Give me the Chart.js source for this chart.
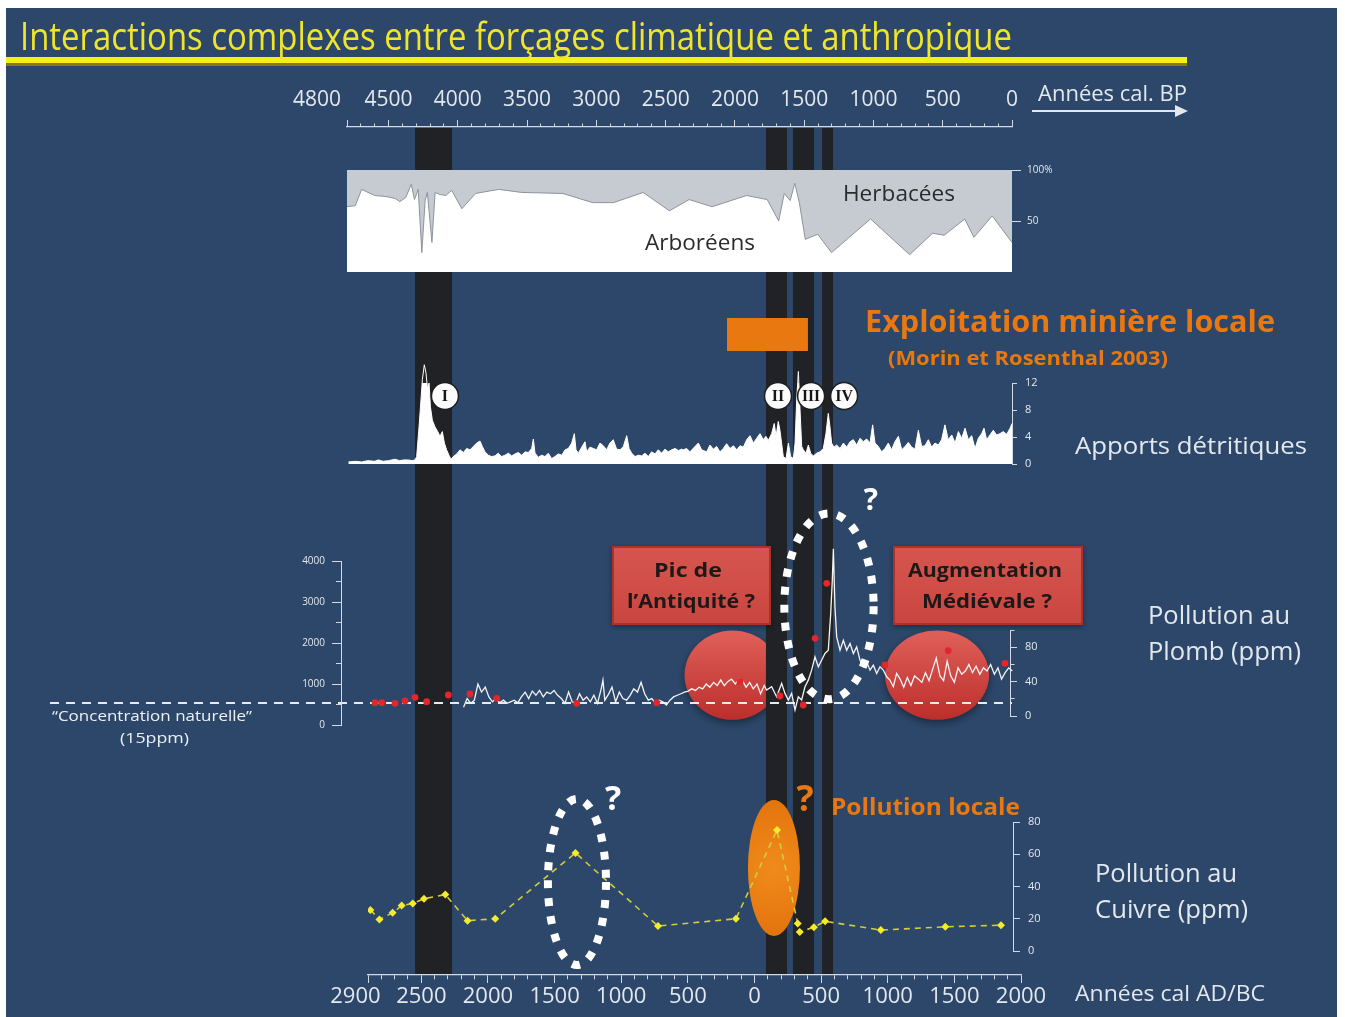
<!DOCTYPE html>
<html lang="fr">
<head>
<meta charset="utf-8">
<title>Interactions complexes entre forçages climatique et anthropique</title>
<script src="https://cdn.jsdelivr.net/npm/chart.js@4.4.1/dist/chart.umd.min.js"></script>
<style>
  html, body { margin: 0; padding: 0; background: #ffffff; }
  #stage { position: relative; width: 1345px; height: 1017px; overflow: hidden; }
  #slide { position: absolute; left: 6px; top: 8px; width: 1331px; height: 1009px; background: #2c4769; }
  #stage canvas { position: absolute; left: 0; top: 0; }
</style>
</head>
<body>
<div id="stage">
  <div id="slide"></div>
  <canvas id="leadZones" width="1345" height="1017"></canvas>
  <canvas id="bpAxis" width="1345" height="1017"></canvas>
  <canvas id="adAxis" width="1345" height="1017"></canvas>
  <canvas id="pollen" width="1345" height="1017"></canvas>
  <canvas id="detrital" width="1345" height="1017"></canvas>
  <canvas id="leadPpm" width="1345" height="1017"></canvas>
  <canvas id="leadCore" width="1345" height="1017"></canvas>
  <canvas id="copper" width="1345" height="1017"></canvas>
</div>
<script>
// ---------------- data ----------------
// Tick labels of the two time axes
const bpTickLabels = [4800, 4500, 4000, 3500, 3000, 2500, 2000, 1500, 1000, 500, 0];
const adTickLabels = [-2900, -2500, -2000, -1500, -1000, -500, 0, 500, 1000, 1500, 2000];

// Climatic / erosive events (years cal BP) and their labels
const eventBandsBP = [[4309, 4042], [1776, 1624], [1581, 1429], [1371, 1292]];
const eventLabels = ['I', 'II', 'III', 'IV'];
const eventLabelBP = [4093, 1689, 1450, 1212];

// Local mining period (Morin et Rosenthal 2003), years cal BP
const miningBP = [2057, 1473];

// Pollen: arboreal pollen percentage, [years cal BP, %]
const pollenArboreal = [
  [4800,64],[4740,65],[4694,81],[4601,75],[4518,74],[4452,72],[4419,69],[4376,73],[4336,86],[4313,71],
  [4286,81],[4260,19],[4236,70],[4220,78],[4187,29],[4164,78],[4130,76],[4087,75],[4044,80],[3971,62],
  [3872,77],[3706,81],[3540,78],[3242,77],[3027,68],[2877,68],[2662,78],[2473,60],[2330,71],[2165,64],
  [1916,75],[1767,71],[1684,50],[1644,77],[1601,70],[1568,87],[1535,68],[1492,32],[1402,37],[1303,19],
  [1021,52],[739,17],[573,38],[490,36],[341,52],[275,34],[143,55],[0,29]
];
const pollenTicks = [50, 100];

// Detrital inputs, [years cal BP, value]
const detritalInputs = [
  [4790,0.3],[4740,0.4],[4694,0.3],[4650,0.5],[4600,0.4],[4574,0.6],[4540,0.4],[4500,0.5],[4454,0.7],[4420,0.5],
  [4390,0.6],[4357,0.6],[4330,0.5],[4309,0.6],[4297,1.1],[4280,5.5],[4266,9.5],[4256,12.5],[4242,14.7],[4230,13.5],
  [4218,11.0],[4208,12.0],[4198,8.5],[4184,6.5],[4165,5.5],[4145,4.8],[4129,4.1],[4112,4.8],[4097,3.1],[4081,2.1],
  [4064,1.3],[4049,0.7],[4033,1.1],[4008,1.5],[3984,2.1],[3960,1.7],[3936,2.3],[3912,2.1],[3888,2.6],[3864,3.1],
  [3840,3.4],[3823,2.6],[3804,1.8],[3780,1.3],[3756,1.1],[3732,1.2],[3708,1.6],[3684,1.1],[3660,1.3],[3635,1.6],
  [3611,1.2],[3587,1.5],[3563,1.7],[3539,1.3],[3515,1.8],[3491,1.7],[3467,2.3],[3455,3.7],[3443,1.6],[3419,1.0],
  [3395,1.3],[3371,1.1],[3347,1.6],[3323,0.8],[3299,1.1],[3275,1.5],[3250,1.3],[3226,2.1],[3202,2.3],[3178,3.1],
  [3159,4.5],[3147,2.1],[3130,1.6],[3106,2.5],[3082,3.3],[3070,1.8],[3046,2.5],[3022,2.3],[2998,2.1],[2974,3.1],
  [2950,2.7],[2926,2.1],[2902,3.1],[2878,3.6],[2854,2.2],[2829,2.1],[2805,2.6],[2781,4.2],[2764,2.3],[2745,1.6],
  [2721,1.1],[2697,1.3],[2673,1.2],[2649,1.6],[2625,1.1],[2601,1.8],[2577,1.5],[2553,2.1],[2529,1.6],[2505,2.2],
  [2481,1.8],[2457,2.1],[2432,2.3],[2408,2.0],[2384,2.2],[2372,2.1],[2348,2.3],[2324,1.8],[2288,2.6],[2264,3.1],
  [2240,2.1],[2204,1.8],[2180,2.8],[2156,2.2],[2132,2.6],[2108,1.8],[2084,2.3],[2060,3.0],[2035,2.3],[2011,2.7],
  [1987,2.1],[1963,2.7],[1939,2.5],[1915,3.6],[1891,4.2],[1867,3.1],[1843,3.8],[1819,4.5],[1795,3.6],[1776,4.1],
  [1759,3.5],[1735,4.5],[1716,6.0],[1703,4.1],[1687,6.3],[1675,5.0],[1663,3.1],[1651,1.1],[1631,0.8],[1614,3.1],
  [1598,1.1],[1578,0.8],[1566,3.1],[1554,9.5],[1542,13.7],[1530,8.0],[1518,2.6],[1506,2.1],[1487,1.6],[1470,2.8],
  [1453,1.6],[1434,1.2],[1410,1.6],[1386,1.8],[1362,2.3],[1343,4.5],[1326,7.5],[1314,5.5],[1302,3.1],[1285,2.5],
  [1266,2.8],[1241,2.3],[1217,3.1],[1193,2.5],[1169,3.3],[1145,3.6],[1121,2.8],[1097,3.8],[1073,3.3],[1049,3.7],
  [1025,3.1],[1006,5.8],[989,3.1],[965,2.6],[941,1.8],[917,2.3],[893,3.1],[869,2.1],[845,3.3],[820,4.1],
  [796,2.1],[772,2.6],[748,3.2],[724,2.5],[700,2.2],[676,5.0],[652,2.6],[628,2.7],[604,3.6],[580,2.5],
  [556,3.1],[532,2.8],[508,3.6],[484,5.8],[460,3.6],[435,4.3],[411,3.1],[387,4.8],[363,3.8],[339,5.3],
  [315,3.6],[291,4.2],[267,2.3],[243,3.8],[219,4.5],[202,5.3],[183,3.6],[159,4.3],[135,5.0],[111,4.3],
  [87,4.5],[63,4.8],[38,4.4],[14,5.3],[0,6.0]
];
const detritalTicks = [0, 4, 8, 12];

// Lead pollution (ppm), years cal AD/BC
const leadAD = [
  -2183,-2156,-2129,-2102,-2075,-2048,-2020,-1993,-1966,-1939,-1912,-1884,-1857,-1830,-1803,-1776,-1749,-1721,-1694,-1667,
  -1640,-1613,-1585,-1558,-1531,-1504,-1477,-1449,-1422,-1395,-1368,-1341,-1313,-1286,-1259,-1232,-1205,-1178,-1150,-1137,
  -1123,-1096,-1069,-1042,-1014,-987,-960,-933,-906,-878,-851,-824,-797,-770,-743,-715,-688,-661,-634,-607,
  -579,-552,-525,-498,-471,-443,-416,-389,-362,-335,-307,-280,-253,-226,-199,-172,-144,-117,-90,-63,
  -36,-9,19,46,73,91,129,166,204,229,254,279,304,329,354,379,404,429,454,479,
  504,529,554,572,584,592,604,617,642,667,692,717,742,767,792,817,842,867,892,917,
  942,967,992,1017,1042,1067,1093,1120,1147,1174,1201,1229,1256,1283,1310,1337,1364,1392,1419,1446,
  1473,1500,1528,1555,1582,1609,1636,1663,1691,1718,1745,1772,1800,1827,1854,1881,1908,1935
];
const leadPPM = [
  10.1,20.3,14.7,18.4,37.2,27.8,33.5,22.2,16.5,20.3,15.4,18.4,14.7,16.5,18.4,15.4,22.2,27.8,20.3,29.0,
  24.1,29.7,22.2,27.8,25.9,29.7,24.1,20.3,14.7,27.8,16.5,14.7,25.9,18.4,22.2,16.5,24.1,14.7,31.6,41.8,
  18.4,25.2,33.5,16.5,27.8,20.3,18.4,24.1,31.6,27.8,39.1,25.9,18.4,20.3,14.7,18.4,16.5,12.8,18.4,22.2,
  24.1,25.9,27.8,29.0,31.6,29.7,33.5,31.6,37.2,33.5,39.1,35.4,41.8,35.4,40.2,42.9,37.2,42.9,41.0,33.5,
  39.1,31.6,37.2,25.9,35.4,30.1,34.0,22.4,37.9,26.3,18.6,26.3,7.0,22.4,18.6,34.0,41.7,53.3,68.8,57.2,
  64.9,72.7,76.5,119.0,157.7,194.4,126.8,92.0,76.5,88.1,76.5,84.3,72.7,80.4,64.9,57.2,63.0,53.3,59.1,49.5,
  57.2,53.3,45.6,41.7,34.0,49.5,42.9,33.5,44.8,35.4,46.6,42.9,39.1,50.4,41.0,54.2,67.3,46.6,41.0,63.6,
  46.6,39.1,56.0,48.5,52.3,59.8,50.4,57.9,48.5,56.0,52.3,59.8,48.5,56.0,42.9,50.4,56.0,52.3
];
const leadPpmTicks = [0, 20, 40, 60, 80, 100];
const leadPpmTickLabels = [0, 40, 80];
const naturalLevelPPM = 15;

// Lead, second record (red points), left axis
const leadCoreAD = [-2847,-2797,-2697,-2622,-2547,-2460,-2297,-2135,-1934,-1334,-734,-109,191,366,455,542,979,1454,1880];
const leadCoreValues = [544,544,529,585,676,568,732,756,651,529,544,1056,707,488,2115,3456,1463,1812,1505];
const leadCoreTicks = [0, 500, 1000, 1500, 2000, 2500, 3000, 3500, 4000];
const leadCoreTickLabels = [0, 1000, 2000, 3000, 4000];

// Copper pollution (ppm), years cal AD/BC
const copperAD = [-2882,-2814,-2715,-2647,-2564,-2480,-2320,-2153,-1945,-1343,-724,-139,169,325,340,446,530,948,1432,1850];
const copperPPM = [25.4,19.6,23.7,28.2,29.5,32.4,35.0,18.8,20.0,60.8,15.5,20.0,75.0,17.0,11.8,14.8,18.4,13.0,15.0,16.0];
const copperTicks = [0, 10, 20, 30, 40, 50, 60, 70, 80];
const copperTickLabels = [0, 20, 40, 60, 80];

// Highlighted zones, in data units (years AD/BC, ppm)
const leadZones = [{ x: -165, y: 47.5, rx: 360, ry: 52 }, { x: 1370, y: 47.5, rx: 390, ry: 52 }];
const leadPeakRing = { x: 559, y: 127.5, rx: 335, ry: 108 };
const copperRing = { x: -1332, y: 42.8, rx: 218, ry: 51.5 };
const copperLocal = { x: 146, y: 51.5, rx: 195, ry: 42.2 };

// ---------------- styling helpers ----------------
const FONT = "'Open Sans', 'DejaVu Sans', sans-serif";
const SERIF = "'Liberation Serif', 'DejaVu Serif', serif";
const LIGHT = '#e3e8ee';
const TICK = '#d3dae3';
const BAND = '#212225';
const ORANGE = '#e8780f';
Chart.defaults.font.family = FONT;

// Text centred vertically on y; optional width squeezes/stretches the run horizontally
function label(ctx, text, x, y, o) {
  ctx.save();
  ctx.font = (o.bold ? 'bold ' : '') + o.size + 'px ' + (o.family || FONT);
  ctx.fillStyle = o.color || LIGHT;
  ctx.textBaseline = 'alphabetic';
  ctx.textAlign = 'left';
  const w = ctx.measureText(text).width;
  const sx = o.width ? o.width / w : 1;
  const drawn = w * sx;
  const left = o.align === 'center' ? x - drawn / 2 : (o.align === 'right' ? x - drawn : x);
  ctx.translate(left, y + o.size * 0.36);
  ctx.scale(sx, 1);
  ctx.fillText(text, 0, 0);
  ctx.restore();
}

function chartOptions(padding, scales) {
  return {
    responsive: false, animation: false, devicePixelRatio: 1, events: [],
    layout: { padding },
    plugins: { legend: { display: false }, tooltip: { enabled: false } },
    scales
  };
}
const hidden = (min, max, reverse) => ({ type: 'linear', display: false, min, max, reverse: !!reverse });
const setTicks = values => scale => { scale.ticks = values.map(value => ({ value })); };

// Minor ticks keep only the part of the tick mark next to the axis line
function tickGrid(len, minorLen, isMajor, farFirst) {
  const minor = c => c.tick && !isMajor(c.tick.value);
  return {
    drawOnChartArea: false, drawTicks: true, tickLength: len, tickColor: TICK, tickWidth: 1,
    tickBorderDash: c => minor(c) ? [minorLen, 60] : [],
    tickBorderDashOffset: c => (minor(c) && farFirst) ? -(len - minorLen) : 0
  };
}

function ellipseOf(chart, e) {
  const xs = chart.scales.x, ys = chart.scales.y;
  const cx = xs.getPixelForValue(e.x), cy = ys.getPixelForValue(e.y);
  return {
    cx, cy,
    rx: Math.abs(xs.getPixelForValue(e.x + e.rx) - cx),
    ry: Math.abs(ys.getPixelForValue(e.y + e.ry) - cy)
  };
}
function dottedRing(ctx, p) {
  ctx.save();
  ctx.strokeStyle = '#ffffff';
  ctx.lineWidth = 8;
  ctx.setLineDash([8, 10]);
  ctx.beginPath();
  ctx.ellipse(p.cx, p.cy, p.rx, p.ry, 0, 0, Math.PI * 2);
  ctx.stroke();
  ctx.restore();
}
function noteBox(ctx, x, y, w, h, lines) {
  ctx.save();
  ctx.shadowColor = 'rgba(0,0,0,0.35)'; ctx.shadowBlur = 5; ctx.shadowOffsetY = 2;
  const g = ctx.createLinearGradient(0, y, 0, y + h);
  g.addColorStop(0, '#d6564f'); g.addColorStop(1, '#c9463f');
  ctx.fillStyle = g;
  ctx.fillRect(x, y, w, h);
  ctx.shadowColor = 'transparent';
  ctx.strokeStyle = '#a9322d'; ctx.lineWidth = 2;
  ctx.strokeRect(x + 1, y + 1, w - 2, h - 2);
  ctx.restore();
  lines.forEach(([t, cx, cy, width]) => label(ctx, t, cx, cy, { size: 20, bold: true, color: '#1d1919', align: 'center', width }));
}

// ---------------- top time axis (cal BP) with event bands and title ----------------
const bpMinor = [];
for (let v = 4800; v >= 0; v -= 100) bpMinor.push(v);
const bpIsMajor = v => v % 500 === 0 || v === 4800;

const bpDecor = {
  id: 'bpDecor',
  beforeDatasetsDraw(chart) {
    const { ctx, chartArea: a } = chart;
    const xs = chart.scales.x;
    ctx.save();
    ctx.fillStyle = BAND;
    for (const [from, to] of eventBandsBP) {
      const x1 = xs.getPixelForValue(from), x2 = xs.getPixelForValue(to);
      ctx.fillRect(Math.min(x1, x2), a.top + 1, Math.abs(x2 - x1), a.bottom - a.top - 1);
    }
    ctx.restore();
  },
  afterDraw(chart) {
    const ctx = chart.ctx;
    ctx.save();
    ctx.fillStyle = '#807d16'; ctx.fillRect(6, 60, 1181, 6);
    ctx.fillStyle = '#f3ef1b'; ctx.fillRect(6, 57, 1181, 6);
    ctx.restore();
    label(ctx, 'Interactions complexes entre forçages climatique et anthropique', 20, 36, { size: 39, color: '#eee52c', width: 992 });
    label(ctx, 'Années cal. BP', 1038, 93, { size: 21, width: 149 });
    ctx.save();
    ctx.strokeStyle = LIGHT; ctx.fillStyle = LIGHT; ctx.lineWidth = 2;
    ctx.beginPath(); ctx.moveTo(1032, 111); ctx.lineTo(1178, 111); ctx.stroke();
    ctx.beginPath(); ctx.moveTo(1188, 111); ctx.lineTo(1175, 105); ctx.lineTo(1175, 117); ctx.closePath(); ctx.fill();
    ctx.restore();
  }
};

new Chart(document.getElementById('bpAxis'), {
  type: 'scatter',
  data: { datasets: [] },
  options: chartOptions({ left: 347, right: 333, top: 80, bottom: 42 }, {
    x: {
      type: 'linear', position: 'top', min: 0, max: 4800, reverse: true,
      afterBuildTicks: setTicks(bpMinor),
      afterFit: s => { s.height = 47; },
      border: { display: true, color: TICK, width: 1.3 },
      grid: tickGrid(7, 3.5, bpIsMajor, true),
      ticks: {
        autoSkip: false, maxRotation: 0, minRotation: 0, padding: 7, color: LIGHT,
        font: { family: FONT, size: 21 },
        callback: v => bpTickLabels.includes(v) ? (v === 4800 ? '4800' + '\u2007'.repeat(5) : String(v)) : ''
      }
    },
    y: hidden(0, 1)
  }),
  plugins: [bpDecor]
});

// ---------------- bottom time axis (cal AD/BC) ----------------
const adMinor = [];
for (let v = -2900; v <= 2000; v += 100) adMinor.push(v);
const adIsMajor = v => v % 500 === 0 || v === -2900;

const adChart = new Chart(document.getElementById('adAxis'), {
  type: 'scatter',
  data: { datasets: [] },
  options: chartOptions({ left: 368, right: 324, top: 127, bottom: 0 }, {
    x: {
      type: 'linear', position: 'bottom', min: -2900, max: 2000,
      afterBuildTicks: setTicks(adMinor),
      afterFit: s => { s.height = 42; },
      border: { display: true, color: TICK, width: 1.3 },
      grid: tickGrid(8, 4, adIsMajor, false),
      ticks: {
        autoSkip: false, maxRotation: 0, minRotation: 0, padding: 1, color: LIGHT,
        font: { family: FONT, size: 22 },
        callback: v => adTickLabels.includes(v) ? (v === -2900 ? '2900' + '\u2007\u2007' : String(Math.abs(v))) : ''
      }
    },
    y: hidden(0, 1)
  }),
  plugins: [{
    id: 'adDecor',
    afterDraw(chart) { label(chart.ctx, 'Années cal AD/BC', 1075, 993, { size: 22, width: 190 }); }
  }]
});
const adAt = px => adChart.scales.x.getValueForPixel(px);

// ---------------- lead highlight zones (below the bands layer) ----------------
new Chart(document.getElementById('leadZones'), {
  type: 'scatter',
  data: { datasets: [] },
  options: chartOptions({ left: 368, right: 335, top: 630, bottom: 301 }, {
    x: hidden(-2900, adAt(1010)),
    y: hidden(0, 100)
  }),
  plugins: [{
    id: 'leadZoneShapes',
    beforeDatasetsDraw(chart) {
      const ctx = chart.ctx;
      leadZones.forEach(z => {
        const p = ellipseOf(chart, z);
        ctx.save();
        ctx.shadowColor = 'rgba(0,0,0,0.4)'; ctx.shadowBlur = 7; ctx.shadowOffsetY = 3;
        const g = ctx.createLinearGradient(0, p.cy - p.ry, 0, p.cy + p.ry);
        g.addColorStop(0, '#e0605a'); g.addColorStop(1, '#bb2e2b');
        ctx.fillStyle = g;
        ctx.beginPath(); ctx.ellipse(p.cx, p.cy, p.rx, p.ry, 0, 0, Math.PI * 2); ctx.fill();
        ctx.restore();
      });
    }
  }]
});

// ---------------- pollen diagram ----------------
new Chart(document.getElementById('pollen'), {
  type: 'scatter',
  data: {
    datasets: [{
      data: pollenArboreal.map(([x, y]) => ({ x, y })),
      showLine: true, fill: 'end', tension: 0,
      backgroundColor: '#c6cbd2', borderColor: '#8e949c', borderWidth: 1, pointRadius: 0
    }]
  },
  options: chartOptions({ left: 347, right: 283, top: 170, bottom: 745 }, {
    x: hidden(0, 4800, true),
    y: {
      type: 'linear', position: 'right', min: 0, max: 100,
      afterBuildTicks: setTicks(pollenTicks),
      afterFit: s => { s.width = 50; },
      border: { display: false },
      grid: { drawOnChartArea: false, drawTicks: true, tickLength: 9, tickColor: TICK },
      ticks: { padding: 6, color: LIGHT, font: { family: FONT, size: 10 }, callback: v => v === 100 ? '100%' : String(v) }
    }
  }),
  plugins: [{
    id: 'pollenDecor',
    beforeDatasetsDraw(chart) {
      const { ctx, chartArea: a } = chart;
      ctx.save(); ctx.fillStyle = '#ffffff';
      ctx.fillRect(a.left, a.top, a.right - a.left, a.bottom - a.top);
      ctx.restore();
    },
    afterDatasetsDraw(chart) {
      const ctx = chart.ctx;
      const xs = chart.scales.x, ys = chart.scales.y;
      label(ctx, 'Herbacées', xs.getPixelForValue(816), ys.getPixelForValue(77.5), { size: 21, color: '#2b2b2b', align: 'center', width: 112 });
      label(ctx, 'Arboréens', xs.getPixelForValue(2252), ys.getPixelForValue(29.4), { size: 21, color: '#2b2b2b', align: 'center', width: 110 });
    }
  }]
});

// ---------------- detrital inputs ----------------
new Chart(document.getElementById('detrital'), {
  type: 'scatter',
  data: {
    datasets: [{
      data: detritalInputs.map(([x, y]) => ({ x, y })),
      showLine: true, fill: 'origin', tension: 0, clip: false,
      backgroundColor: '#ffffff', borderColor: '#ffffff', borderWidth: 1, pointRadius: 0
    }]
  },
  options: chartOptions({ left: 347, right: 283, top: 383, bottom: 553 }, {
    x: hidden(0, 4800, true),
    y: {
      type: 'linear', position: 'right', min: 0, max: 12,
      afterBuildTicks: setTicks(detritalTicks),
      afterFit: s => { s.width = 50; },
      border: { display: true, color: TICK, width: 1 },
      grid: { drawOnChartArea: false, drawTicks: true, tickLength: 5, tickColor: TICK },
      ticks: { padding: 8, color: LIGHT, font: { family: FONT, size: 11 } }
    }
  }),
  plugins: [{
    id: 'detritalDecor',
    beforeDatasetsDraw(chart) {
      const ctx = chart.ctx, xs = chart.scales.x;
      const x1 = xs.getPixelForValue(miningBP[0]), x2 = xs.getPixelForValue(miningBP[1]);
      ctx.save(); ctx.fillStyle = ORANGE;
      ctx.fillRect(Math.min(x1, x2), 318, Math.abs(x2 - x1), 33);
      ctx.restore();
    },
    afterDatasetsDraw(chart) {
      const ctx = chart.ctx, xs = chart.scales.x;
      eventLabels.forEach((t, i) => {
        const cx = xs.getPixelForValue(eventLabelBP[i]), cy = 396;
        ctx.save();
        ctx.beginPath(); ctx.arc(cx, cy, 13.5, 0, Math.PI * 2);
        ctx.fillStyle = '#fbfbfb'; ctx.fill();
        ctx.lineWidth = 1.5; ctx.strokeStyle = '#1e1e1e'; ctx.stroke();
        ctx.restore();
        label(ctx, t, cx, cy - 0.5, { size: 16, bold: true, family: SERIF, color: '#151515', align: 'center', width: t.length > 2 ? 18 : undefined });
      });
      label(ctx, 'Exploitation minière locale', 865, 321, { size: 30, bold: true, color: ORANGE, width: 410 });
      label(ctx, '(Morin et Rosenthal 2003)', 888, 358, { size: 20, bold: true, color: ORANGE, width: 280 });
      label(ctx, 'Apports détritiques', 1075, 445, { size: 24, width: 232 });
    }
  }]
});

// ---------------- lead pollution (ppm) ----------------
new Chart(document.getElementById('leadPpm'), {
  type: 'scatter',
  data: {
    datasets: [{
      data: leadAD.map((x, i) => ({ x, y: leadPPM[i] })),
      showLine: true, tension: 0, clip: false,
      borderColor: '#f4f4f4', borderWidth: 1.3, pointRadius: 0
    }]
  },
  options: chartOptions({ left: 368, right: 295, top: 630, bottom: 301 }, {
    x: hidden(-2900, adAt(1010)),
    y: {
      type: 'linear', position: 'right', min: 0, max: 100,
      afterBuildTicks: setTicks(leadPpmTicks),
      afterFit: s => { s.width = 40; },
      border: { display: true, color: TICK, width: 1 },
      grid: tickGrid(7, 3.5, v => leadPpmTickLabels.includes(v), false),
      ticks: { padding: 8, color: LIGHT, font: { family: FONT, size: 11 }, callback: v => leadPpmTickLabels.includes(v) ? String(v) : '' }
    }
  }),
  plugins: [{
    id: 'leadDecor',
    beforeDatasetsDraw(chart) {
      const ctx = chart.ctx, ys = chart.scales.y, a = chart.chartArea;
      const y = ys.getPixelForValue(naturalLevelPPM);
      ctx.save();
      ctx.strokeStyle = '#e8ebee'; ctx.lineWidth = 2; ctx.setLineDash([9, 7]);
      ctx.beginPath(); ctx.moveTo(50, y); ctx.lineTo(a.right + 2, y); ctx.stroke();
      ctx.restore();
    },
    afterDatasetsDraw(chart) {
      const ctx = chart.ctx;
      dottedRing(ctx, ellipseOf(chart, leadPeakRing));
      label(ctx, '?', 871, 499, { size: 30, bold: true, color: '#ffffff', align: 'center' });
      noteBox(ctx, 612, 546, 159, 79, [['Pic de', 688, 570, 68], ['l’Antiquité ?', 691, 601, 128]]);
      noteBox(ctx, 893, 546, 190, 79, [['Augmentation', 985, 570, 154], ['Médiévale ?', 987, 601, 130]]);
      label(ctx, 'Pollution au', 1148, 615, { size: 25, width: 142 });
      label(ctx, 'Plomb (ppm)', 1148, 651, { size: 25, width: 153 });
    }
  }]
});

// ---------------- lead, second record (left axis) ----------------
new Chart(document.getElementById('leadCore'), {
  type: 'scatter',
  data: {
    datasets: [{
      data: leadCoreAD.map((x, i) => ({ x, y: leadCoreValues[i] })),
      pointRadius: 3.4, pointBackgroundColor: '#e3262b', pointBorderWidth: 0, clip: false
    }]
  },
  options: chartOptions({ left: 291, right: 335, top: 561, bottom: 292 }, {
    x: hidden(adAt(341), adAt(1010)),
    y: {
      type: 'linear', position: 'left', min: 0, max: 4000,
      afterBuildTicks: setTicks(leadCoreTicks),
      afterFit: s => { s.width = 50; },
      border: { display: true, color: TICK, width: 1 },
      grid: tickGrid(9, 5, v => leadCoreTickLabels.includes(v), true),
      ticks: { padding: 7, color: LIGHT, font: { family: FONT, size: 10 }, callback: v => leadCoreTickLabels.includes(v) ? String(v) : '' }
    }
  }),
  plugins: [{
    id: 'leadCoreDecor',
    afterDraw(chart) {
      label(chart.ctx, '“Concentration naturelle”', 52, 716, { size: 14, color: '#eef1f4', width: 200 });
      label(chart.ctx, '(15ppm)', 120, 738, { size: 14, color: '#eef1f4', width: 69 });
    }
  }]
});

// ---------------- copper pollution (ppm) ----------------
new Chart(document.getElementById('copper'), {
  type: 'scatter',
  data: {
    datasets: [{
      data: copperAD.map((x, i) => ({ x, y: copperPPM[i] })),
      showLine: true, tension: 0,
      borderColor: '#d2cd3b', borderWidth: 1.6, borderDash: [6, 5],
      pointRadius: 4, pointStyle: 'rectRot', pointBackgroundColor: '#f4ec2a', pointBorderWidth: 0
    }]
  },
  options: chartOptions({ left: 368, right: 292, top: 822, bottom: 66 }, {
    x: hidden(-2900, adAt(1013)),
    y: {
      type: 'linear', position: 'right', min: 0, max: 80,
      afterBuildTicks: setTicks(copperTicks),
      afterFit: s => { s.width = 40; },
      border: { display: true, color: TICK, width: 1 },
      grid: tickGrid(7, 3.5, v => copperTickLabels.includes(v), false),
      ticks: { padding: 8, color: LIGHT, font: { family: FONT, size: 11 }, callback: v => copperTickLabels.includes(v) ? String(v) : '' }
    }
  }),
  plugins: [{
    id: 'copperDecor',
    beforeDatasetsDraw(chart) {
      const ctx = chart.ctx;
      const p = ellipseOf(chart, copperLocal);
      ctx.save();
      const g = ctx.createRadialGradient(p.cx, p.cy, 2, p.cx, p.cy, p.ry);
      g.addColorStop(0, '#f08a1c'); g.addColorStop(1, '#e3740c');
      ctx.fillStyle = g;
      ctx.beginPath(); ctx.ellipse(p.cx, p.cy, p.rx, p.ry, 0, 0, Math.PI * 2); ctx.fill();
      ctx.restore();
    },
    afterDatasetsDraw(chart) {
      const ctx = chart.ctx;
      dottedRing(ctx, ellipseOf(chart, copperRing));
      label(ctx, '?', 613, 798, { size: 34, bold: true, color: '#ffffff', align: 'center' });
      label(ctx, '?', 805, 798, { size: 36, bold: true, color: ORANGE, align: 'center' });
      label(ctx, 'Pollution locale', 831, 806, { size: 24, bold: true, color: ORANGE, width: 189 });
      label(ctx, 'Pollution au', 1095, 873, { size: 25, width: 142 });
      label(ctx, 'Cuivre (ppm)', 1095, 909, { size: 25, width: 153 });
    }
  }]
});
</script>
</body>
</html>
